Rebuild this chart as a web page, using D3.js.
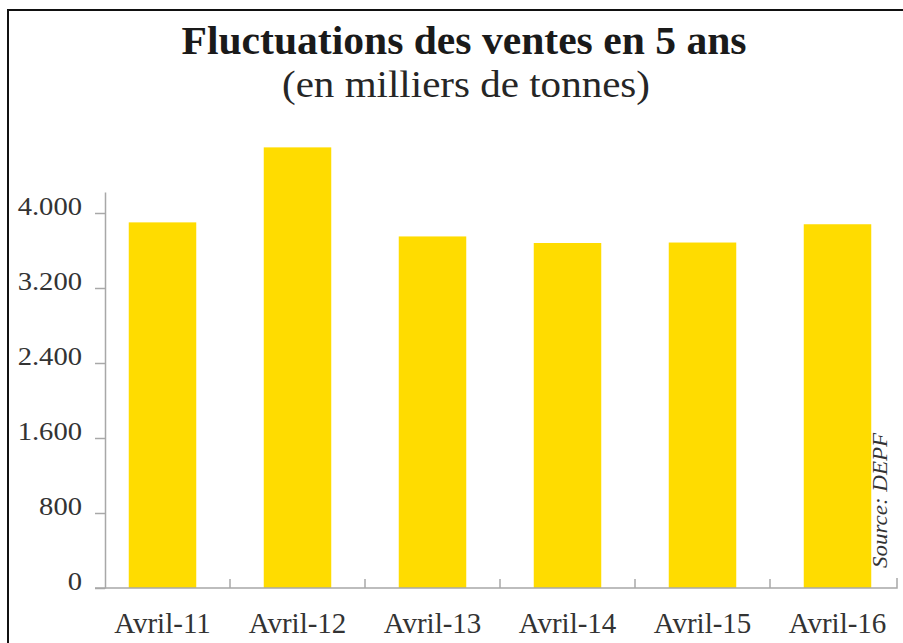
<!DOCTYPE html>
<html>
<head>
<meta charset="utf-8">
<script src="https://cdn.jsdelivr.net/npm/d3@7"></script>
<style>
  body { margin: 0; background: #fff; }
  svg { display: block; }
  text { font-family: "Liberation Serif", "Times New Roman", serif; }
</style>
</head>
<body>
<div id="graph"></div>
<script>
// chart data
const categories = ['Avril-11', 'Avril-12', 'Avril-13', 'Avril-14', 'Avril-15', 'Avril-16'];
const ventes = [3900, 4700, 3750, 3680, 3685, 3880];
const yTicks = [0, 800, 1600, 2400, 3200, 4000];
const yTickLabels = ['0', '800', '1.600', '2.400', '3.200', '4.000'];

const svgWidth = 903;
const svgHeight = 643;

const svg = d3.select('#graph')
  .append('svg')
  .attr('width', svgWidth)
  .attr('height', svgHeight);

// frame (top + left edges only, rest is cropped)
svg.append('path')
  .attr('d', 'M8,643V10H903')
  .attr('fill', 'none')
  .attr('stroke', '#111')
  .attr('stroke-width', 2);

// titles
svg.append('text')
  .attr('x', 464)
  .attr('y', 54)
  .attr('text-anchor', 'middle')
  .attr('font-size', 40)
  .attr('font-weight', 'bold')
  .attr('fill', '#1a1a1a')
  .attr('textLength', 565)
  .attr('lengthAdjust', 'spacingAndGlyphs')
  .text('Fluctuations des ventes en 5 ans');

svg.append('text')
  .attr('x', 466)
  .attr('y', 97)
  .attr('text-anchor', 'middle')
  .attr('font-size', 38)
  .attr('fill', '#262626')
  .attr('textLength', 368)
  .attr('lengthAdjust', 'spacingAndGlyphs')
  .text('(en milliers de tonnes)');

// scales
const x = d3.scaleBand()
  .domain(categories)
  .range([95, 905])
  .paddingInner(0.5)
  .paddingOuter(0.25);

const y = d3.scaleLinear()
  .domain([0, 4224])
  .range([588, 192]);

// bars
svg.append('g')
  .selectAll('rect')
  .data(ventes)
  .join('rect')
  .attr('x', (d, i) => x(categories[i]))
  .attr('width', x.bandwidth())
  .attr('y', d => y(d))
  .attr('height', d => y(0) - y(d))
  .attr('fill', '#ffdc00');

// y axis (lines from d3, labels drawn below so they can be stretched)
const yAxis = svg.append('g')
  .attr('transform', 'translate(105,0)')
  .call(d3.axisLeft(y)
    .tickValues(yTicks)
    .tickSize(10)
    .tickSizeOuter(0)
    .tickFormat(''));

yAxis.select('.domain').attr('stroke', '#a8a8a8').attr('stroke-width', 1.5);
yAxis.selectAll('.tick line').attr('stroke', '#a8a8a8').attr('stroke-width', 1.5);

svg.append('g')
  .selectAll('text')
  .data(yTicks)
  .join('text')
  .attr('transform', d => `translate(82,${y(d) + 2}) scale(1.1,1)`)
  .attr('text-anchor', 'end')
  .attr('font-size', 26)
  .attr('fill', '#333')
  .text((d, i) => yTickLabels[i]);

// x axis: separators between the bars, ending a bit before the last band edge
const step = x.step();
const edges = d3.range(1, categories.length).map(i => x.range()[0] + i * step);
const xEnd = x.range()[1] - 8;

const xAxis = svg.append('g').attr('class', 'axis axis--x');
xAxis.append('path')
  .attr('d', `M${x.range()[0]},${y(0)}H${xEnd}V${y(0) - 10}`)
  .attr('fill', 'none')
  .attr('stroke', '#a8a8a8')
  .attr('stroke-width', 1.5);

xAxis.selectAll('line')
  .data(edges)
  .join('line')
  .attr('x1', d => d)
  .attr('x2', d => d)
  .attr('y1', y(0))
  .attr('y2', y(0) - 9)
  .attr('stroke', '#a8a8a8')
  .attr('stroke-width', 1.5);

xAxis.selectAll('text')
  .data(categories)
  .join('text')
  .attr('x', d => x(d) + x.bandwidth() / 2)
  .attr('y', 633)
  .attr('text-anchor', 'middle')
  .attr('font-size', 29)
  .attr('fill', '#333')
  .text(d => d);

// source
svg.append('text')
  .attr('transform', 'translate(887,568) rotate(-90)')
  .attr('font-size', 21)
  .attr('font-style', 'italic')
  .attr('fill', '#333')
  .attr('textLength', 135)
  .attr('lengthAdjust', 'spacingAndGlyphs')
  .text('Source: DEPF');
</script>
</body>
</html>
